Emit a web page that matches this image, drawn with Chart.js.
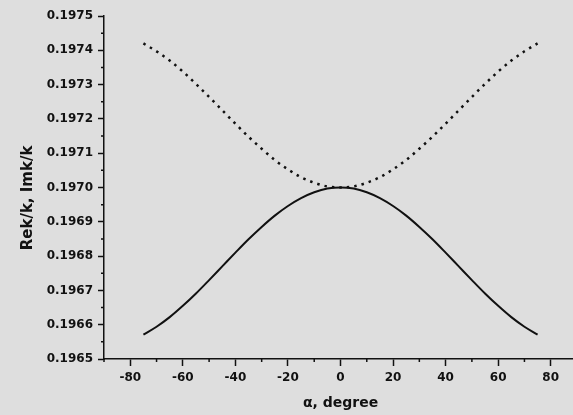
<!DOCTYPE html>
<html>
<head>
<meta charset="utf-8">
<script src="https://cdn.jsdelivr.net/npm/chart.js@4.4.1/dist/chart.umd.min.js"></script>
<style>
  html, body { margin: 0; padding: 0; background: #dedede; overflow: hidden; }
  canvas { display: block; }
</style>
</head>
<body>
<canvas id="myChart" width="582" height="415"></canvas>
<script>
// angle, degrees
const angles = [-75, -70, -65, -60, -55, -50, -45, -40, -35, -30, -25, -20, -15, -10, -5, 0,
  5, 10, 15, 20, 25, 30, 35, 40, 45, 50, 55, 60, 65, 70, 75];

// solid curve (lower branch)
const lowerValues = [0.196571, 0.196594, 0.196622, 0.196655, 0.196691, 0.196730, 0.196770, 0.196810,
  0.196849, 0.196885, 0.196918, 0.196946, 0.196969, 0.196986, 0.196997, 0.197000,
  0.196997, 0.196986, 0.196969, 0.196946, 0.196918, 0.196885, 0.196849, 0.196810,
  0.196770, 0.196730, 0.196691, 0.196655, 0.196622, 0.196594, 0.196571];

// dotted curve (upper branch)
const upperValues = [0.197420, 0.197397, 0.197370, 0.197338, 0.197302, 0.197264, 0.197225, 0.197186,
  0.197148, 0.197113, 0.197080, 0.197053, 0.197030, 0.197014, 0.197003, 0.197000,
  0.197003, 0.197014, 0.197030, 0.197053, 0.197080, 0.197113, 0.197148, 0.197186,
  0.197225, 0.197264, 0.197302, 0.197338, 0.197370, 0.197397, 0.197420];

const xTitle = "α, degree";
// trailing spaces push the rotated title a bit lower, like in the original
const yTitle = "Rek/k, Imk/k\u00a0\u00a0\u00a0\u00a0";

const ink = "#111";
const tickFont = { family: "DejaVu Sans", size: 12, weight: "bold" };

const isMajorX = (v) => Math.round(v) % 20 === 0 && Math.abs(v) < 90;
const isMajorY = (v) => Math.round(v * 1e5) % 10 === 0;

// short ticks for the in-between values
const minorTicks = {
  id: "minorTicks",
  afterDraw(chart) {
    const { ctx, scales: { x, y } } = chart;
    ctx.save();
    ctx.strokeStyle = ink;
    ctx.lineWidth = 1.5;
    ctx.beginPath();
    x.ticks.forEach((t) => {
      if (isMajorX(t.value)) return;
      const px = x.getPixelForValue(t.value);
      ctx.moveTo(px, x.top);
      ctx.lineTo(px, x.top + 3);
    });
    y.ticks.forEach((t) => {
      if (isMajorY(t.value)) return;
      const py = y.getPixelForValue(t.value);
      ctx.moveTo(y.right, py);
      ctx.lineTo(y.right - 3, py);
    });
    ctx.stroke();
    ctx.restore();
  },
};

new Chart("myChart", {
  type: "line",
  data: {
    datasets: [
      {
        label: "Im",
        data: angles.map((a, i) => ({ x: a, y: upperValues[i] })),
        borderColor: ink,
        borderWidth: 2.5,
        borderDash: [2.5, 5],
        pointRadius: 0,
        cubicInterpolationMode: "monotone",
      },
      {
        label: "Re",
        data: angles.map((a, i) => ({ x: a, y: lowerValues[i] })),
        borderColor: ink,
        borderWidth: 2,
        pointRadius: 0,
        cubicInterpolationMode: "monotone",
      },
    ],
  },
  options: {
    responsive: false,
    animation: false,
    layout: { padding: { top: 16, right: 3, left: 0, bottom: 0 } },
    plugins: { legend: { display: false }, tooltip: { enabled: false } },
    scales: {
      x: {
        type: "linear",
        min: -90,
        max: 90,
        afterFit: (scale) => { scale.height = 56; },
        border: { display: true, color: ink, width: 1.5 },
        grid: {
          drawOnChartArea: false,
          tickLength: 7,
          tickWidth: 1.5,
          tickColor: (ctx) => (ctx.tick && isMajorX(ctx.tick.value) ? ink : "rgba(0,0,0,0)"),
        },
        ticks: {
          stepSize: 10,
          autoSkip: false,
          maxRotation: 0,
          padding: 5,
          color: ink,
          font: tickFont,
          callback: (v) => (isMajorX(v) ? String(Math.round(v)) : ""),
        },
        title: {
          display: true,
          text: xTitle,
          color: ink,
          font: { family: "DejaVu Sans", size: 14, weight: "bold" },
          padding: { top: 0, bottom: 3 },
        },
      },
      y: {
        type: "linear",
        min: 0.1965,
        max: 0.1975,
        afterFit: (scale) => { scale.width = 104; },
        border: { display: true, color: ink, width: 1.5 },
        grid: {
          drawOnChartArea: false,
          tickLength: 6,
          tickWidth: 1.5,
          tickColor: (ctx) => (ctx.tick && isMajorY(ctx.tick.value) ? ink : "rgba(0,0,0,0)"),
        },
        ticks: {
          stepSize: 0.00005,
          autoSkip: false,
          padding: 5,
          color: ink,
          font: tickFont,
          callback: (v) => (isMajorY(v) ? v.toFixed(4) : ""),
        },
        title: {
          display: true,
          text: yTitle,
          color: ink,
          font: { family: "DejaVu Sans", size: 15, weight: "bold" },
          padding: { top: 19, bottom: 0 },
        },
      },
    },
  },
  plugins: [minorTicks],
});
</script>
</body>
</html>
